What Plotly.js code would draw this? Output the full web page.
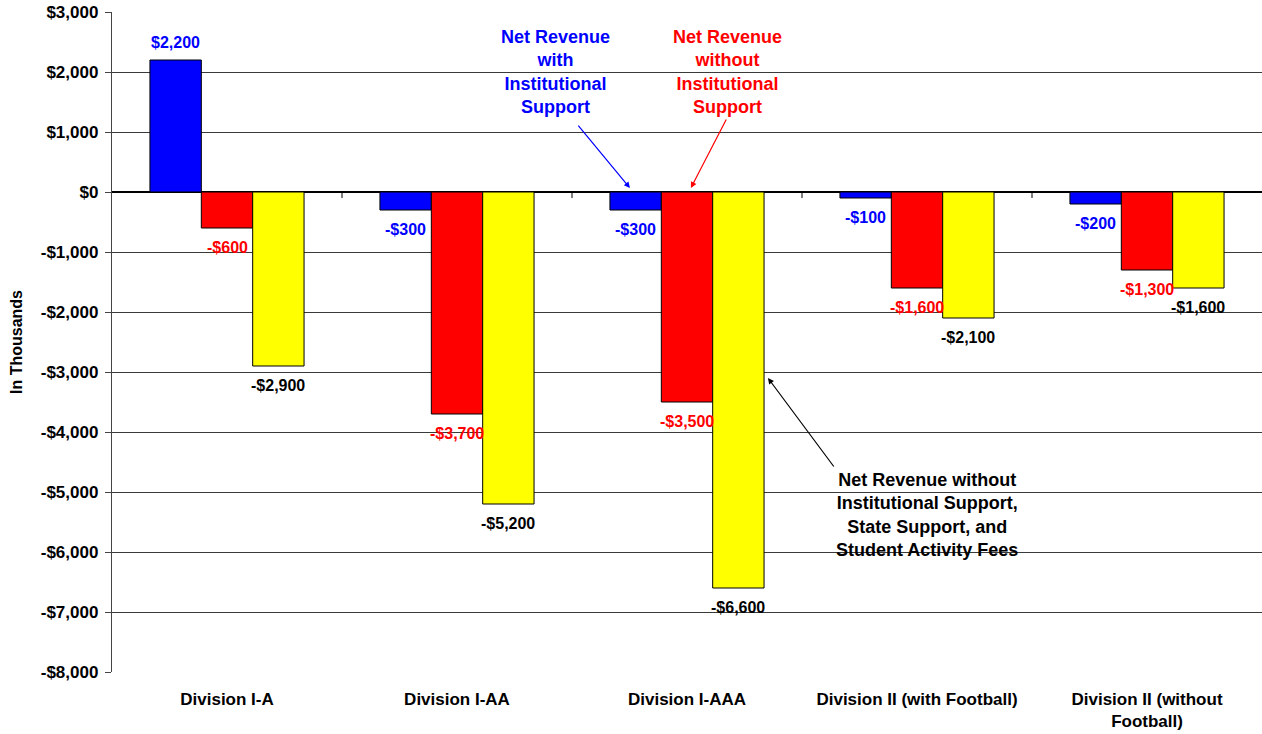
<!DOCTYPE html>
<html>
<head>
<meta charset="utf-8">
<script src="https://cdn.plot.ly/plotly-3.0.1.min.js"></script>
<style>
  html, body { margin: 0; padding: 0; background: #fff; }
  #chart { width: 1262px; height: 734px; }
</style>
</head>
<body>
<div id="chart"></div>
<script>
// Athletic program net revenue by division (in thousands of dollars)
const divisions = [
  "Division I-A",
  "Division I-AA",
  "Division I-AAA",
  "Division II (with Football)",
  "Division II (without<br>Football)"
];
const withInstitutional = [2200, -300, -300, -100, -200];
const withoutInstitutional = [-600, -3700, -3500, -1600, -1300];
const withoutAllSupport = [-2900, -5200, -6600, -2100, -1600];

const yTickValues = [3000, 2000, 1000, 0, -1000, -2000, -3000, -4000, -5000, -6000, -7000, -8000];

const FONT = "Arial, 'Liberation Sans', Helvetica, sans-serif";
const BAR_GAP = 0.33;

function money(v) {
  return (v < 0 ? "-" : "") + "$" + Math.abs(v).toLocaleString("en-US");
}

const series = [
  { name: "Net Revenue with Institutional Support", values: withInstitutional, fill: "#0000FF", label: "#0000FF" },
  { name: "Net Revenue without Institutional Support", values: withoutInstitutional, fill: "#FF0000", label: "#FF0000" },
  { name: "Net Revenue without Institutional Support, State Support, and Student Activity Fees",
    values: withoutAllSupport, fill: "#FFFF00", label: "#000000" }
];

const data = series.map(s => ({
  type: "bar",
  name: s.name,
  x: divisions,
  y: s.values,
  marker: { color: s.fill, line: { color: "#000", width: 1 } },
  hoverinfo: "skip"
}));

// value labels, set a little away from the end of each bar
const barWidth = (1 - BAR_GAP) / series.length;
const valueLabels = [];
series.forEach((s, k) => {
  s.values.forEach((v, i) => {
    valueLabels.push({
      xref: "x", yref: "y",
      x: i + (k - (series.length - 1) / 2) * barWidth,
      y: v,
      yshift: v >= 0 ? 18 : -19,
      text: money(v),
      showarrow: false,
      xanchor: "center", yanchor: "middle",
      font: { family: FONT, size: 16, weight: "bold", color: s.label }
    });
  });
});

// short category tick marks hanging below the zero line
const boundaryTicks = [];
for (let i = 1; i < divisions.length; i++) {
  boundaryTicks.push({
    type: "line", xref: "x", yref: "y",
    x0: i - 0.5, x1: i - 0.5, y0: 0, y1: -100,
    line: { color: "#000", width: 1 }
  });
}

const noteFont = (c) => ({ family: FONT, size: 18, weight: "bold", color: c });

const notes = [
  {
    xref: "x", yref: "y", x: 1.43, y: 2000,
    text: "Net Revenue<br>with<br>Institutional<br>Support",
    showarrow: false, align: "center", xanchor: "center", yanchor: "middle",
    font: noteFont("#0000FF")
  },
  {
    xref: "x", yref: "y", x: 2.178, y: 2000,
    text: "Net Revenue<br>without<br>Institutional<br>Support",
    showarrow: false, align: "center", xanchor: "center", yanchor: "middle",
    font: noteFont("#FF0000")
  },
  {
    xref: "x", yref: "y", x: 3.043, y: -5380,
    text: "Net Revenue without<br>Institutional Support,<br>State Support, and<br>Student Activity Fees",
    showarrow: false, align: "center", xanchor: "center", yanchor: "middle",
    font: noteFont("#000000")
  },
  {
    xref: "x", yref: "y", axref: "x", ayref: "y",
    x: 1.752, y: 67, ax: 1.522, ay: 1133, text: "",
    showarrow: true, arrowhead: 2, arrowsize: 1, arrowwidth: 1.2, arrowcolor: "#0000FF", standoff: 0
  },
  {
    xref: "x", yref: "y", axref: "x", ayref: "y",
    x: 2.017, y: 67, ax: 2.174, ay: 1233, text: "",
    showarrow: true, arrowhead: 2, arrowsize: 1, arrowwidth: 1.2, arrowcolor: "#FF0000", standoff: 0
  },
  {
    xref: "x", yref: "y", axref: "x", ayref: "y",
    x: 2.352, y: -3100, ax: 2.643, ay: -4600, text: "",
    showarrow: true, arrowhead: 2, arrowsize: 1, arrowwidth: 1.2, arrowcolor: "#000000", standoff: 0
  }
];

const layout = {
  width: 1262,
  height: 734,
  margin: { l: 112, r: 0, t: 12, b: 62 },
  paper_bgcolor: "#fff",
  plot_bgcolor: "#fff",
  showlegend: false,
  barmode: "group",
  bargap: BAR_GAP,
  bargroupgap: 0,
  font: { family: FONT, color: "#000" },
  xaxis: {
    type: "category",
    showgrid: false,
    showline: false,
    zeroline: false,
    ticks: "",
    ticklabelstandoff: 15,
    tickfont: { family: FONT, size: 17, weight: "bold", color: "#000" },
    automargin: false,
    fixedrange: true
  },
  yaxis: {
    range: [-8000, 3000],
    tickvals: yTickValues,
    ticktext: yTickValues.map(money),
    tickfont: { family: FONT, size: 17, weight: "bold", color: "#000" },
    ticklabelstandoff: 3,
    showgrid: true,
    gridcolor: "#3a3a3a",
    gridwidth: 1,
    zeroline: true,
    zerolinecolor: "#000",
    zerolinewidth: 1.2,
    showline: true,
    linecolor: "#444",
    linewidth: 1.2,
    ticks: "outside",
    ticklen: 6,
    tickcolor: "#444",
    automargin: false,
    fixedrange: true,
    title: {
      text: "In Thousands",
      font: { family: FONT, size: 16, weight: "bold", color: "#000" },
      standoff: 14
    }
  },
  shapes: boundaryTicks,
  annotations: valueLabels.concat(notes)
};

Plotly.newPlot("chart", data, layout, { displayModeBar: false, staticPlot: true });
</script>
</body>
</html>
